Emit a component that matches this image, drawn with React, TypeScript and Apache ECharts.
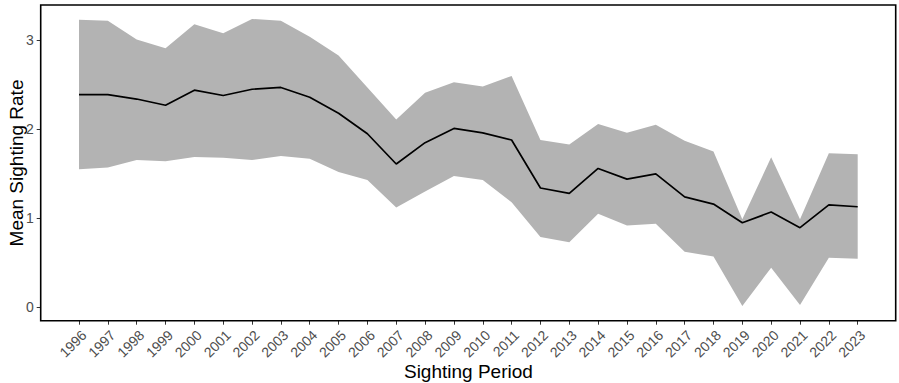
import React, { useEffect, useRef } from "react";
import * as echarts from "echarts";

const years = [
  "1996", "1997", "1998", "1999", "2000", "2001", "2002", "2003", "2004", "2005",
  "2006", "2007", "2008", "2009", "2010", "2011", "2012", "2013", "2014", "2015",
  "2016", "2017", "2018", "2019", "2020", "2021", "2022", "2023",
];
const meanRate = [
  2.39, 2.39, 2.34, 2.27, 2.44, 2.38, 2.45, 2.47, 2.36, 2.18,
  1.95, 1.61, 1.85, 2.01, 1.96, 1.88, 1.34, 1.28, 1.56, 1.44,
  1.50, 1.24, 1.16, 0.95, 1.07, 0.895, 1.15, 1.13,
];
const upperRate = [
  3.23, 3.22, 3.01, 2.91, 3.18, 3.08, 3.24, 3.22, 3.04, 2.83,
  2.47, 2.11, 2.41, 2.53, 2.48, 2.60, 1.88, 1.83, 2.06, 1.96,
  2.05, 1.87, 1.75, 0.99, 1.685, 0.99, 1.73, 1.72,
];
const lowerRate = [
  1.55, 1.57, 1.655, 1.64, 1.69, 1.68, 1.655, 1.70, 1.67, 1.52,
  1.43, 1.12, 1.30, 1.475, 1.43, 1.18, 0.79, 0.73, 1.05, 0.92,
  0.94, 0.625, 0.57, 0.015, 0.445, 0.026, 0.557, 0.546,
];
const yTicks = [0, 1, 2, 3];

const FONT = "'Liberation Sans', Arial, sans-serif";

export default function App() {
  const ref = useRef<HTMLDivElement>(null);
  useEffect(() => {
    document.body.style.margin = "0";
    if (!ref.current) return;
    const chart = echarts.init(ref.current, null, { renderer: "svg" });
    const idx = years.map((_, i) => i);
    const bandRows = years.map((_, i) => [i, lowerRate[i], upperRate[i]]);
    const meanPts = meanRate.map((v, i) => [i, v]);
    chart.setOption({
      animation: false,
      backgroundColor: "#ffffff",
      textStyle: { fontFamily: FONT },
      grid: { left: 40.7, right: 3.3, top: 5, bottom: 62.3, containLabel: false },
      xAxis: {
        type: "value",
        min: -1.328,
        max: 28.318,
        axisLine: { show: false, onZero: false },
        axisTick: {
          show: true,
          length: 4,
          customValues: idx,
          lineStyle: { color: "#333333", width: 1 },
        },
        axisLabel: {
          customValues: idx,
          rotate: 45,
          fontSize: 14,
          color: "#4d4d4d",
          fontFamily: FONT,
          margin: 7,
          align: "right",
          verticalAlign: "top",
          formatter: (v: number) => years[Math.round(v)] ?? "",
        },
        splitLine: { show: false },
      },
      yAxis: {
        type: "value",
        min: -0.1506,
        max: 3.3966,
        axisLine: { show: false, onZero: false },
        axisTick: {
          show: true,
          length: 4,
          customValues: yTicks,
          lineStyle: { color: "#333333", width: 1 },
        },
        axisLabel: {
          customValues: yTicks,
          fontSize: 14,
          color: "#4d4d4d",
          fontFamily: FONT,
          margin: 7,
          formatter: (v: number) => String(v),
        },
        splitLine: { show: false },
      },
      series: [
        {
          name: "band",
          type: "custom",
          data: bandRows,
          encode: { x: 0, y: [1, 2] },
          silent: true,
          z: 2,
          renderItem: (params: any, api: any) => {
            if (params.dataIndex !== 0) return null;
            const pts: number[][] = [];
            for (let i = 0; i < bandRows.length; i++) {
              pts.push(api.coord([bandRows[i][0], bandRows[i][2]]));
            }
            for (let i = bandRows.length - 1; i >= 0; i--) {
              pts.push(api.coord([bandRows[i][0], bandRows[i][1]]));
            }
            return {
              type: "polygon",
              shape: { points: pts },
              style: { fill: "#b3b3b3", stroke: "none" },
            };
          },
        },
        {
          name: "mean",
          type: "line",
          data: meanPts,
          symbol: "none",
          lineStyle: { color: "#000000", width: 1.7 },
          z: 5,
        },
      ],
      graphic: [
        {
          type: "rect",
          shape: { x: 40.7, y: 5, width: 855, height: 315.7 },
          style: { fill: "none", stroke: "#000000", lineWidth: 1.6 },
          z: 100,
          silent: true,
        },
        {
          type: "text",
          x: 16,
          y: 163,
          rotation: Math.PI / 2,
          style: {
            text: "Mean Sighting Rate",
            fontSize: 19,
            fontFamily: FONT,
            fill: "#000000",
            align: "center",
            verticalAlign: "middle",
          },
        },
        {
          type: "text",
          x: 468.4,
          y: 371,
          style: {
            text: "Sighting Period",
            fontSize: 19,
            fontFamily: FONT,
            fill: "#000000",
            align: "center",
            verticalAlign: "middle",
          },
        },
      ],
    });
    return () => chart.dispose();
  }, []);
  return <div ref={ref} style={{ width: 899, height: 383 }} />;
}
